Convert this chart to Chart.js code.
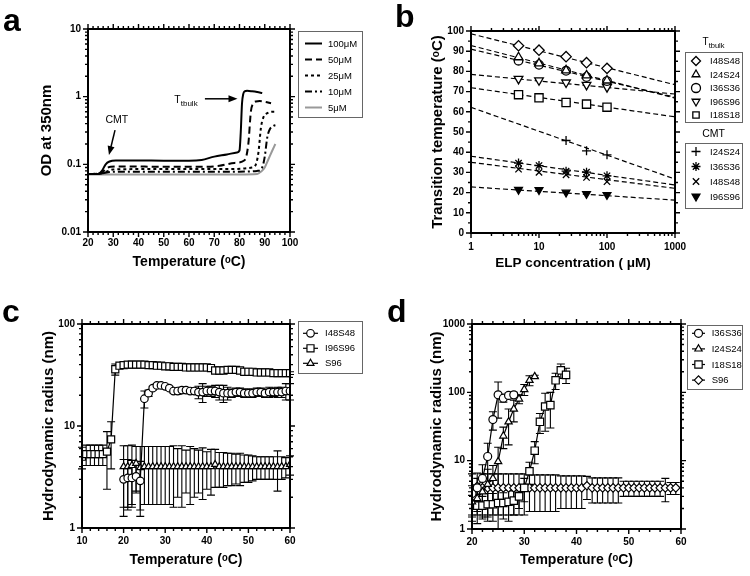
<!DOCTYPE html>
<html>
<head>
<meta charset="utf-8">
<script src="https://cdn.jsdelivr.net/npm/chart.js@4/dist/chart.umd.min.js"></script>
<style>
  body { margin: 0; background: #fff; width: 750px; height: 576px; position: relative; overflow: hidden; }
  canvas { position: absolute; }
  .lab { position: absolute; font: bold 32px Arial, 'Liberation Sans', sans-serif; line-height: 1; color: #000; }
</style>
</head>
<body>
<canvas id="chA" width="375" height="288" style="left:0;top:0"></canvas>
<canvas id="chB" width="375" height="288" style="left:375px;top:0"></canvas>
<canvas id="chC" width="375" height="288" style="left:0;top:288px"></canvas>
<canvas id="chD" width="375" height="288" style="left:375px;top:288px"></canvas>
<div class="lab" style="left:3px;top:4px">a</div>
<div class="lab" style="left:395px;top:0">b</div>
<div class="lab" style="left:2px;top:295px">c</div>
<div class="lab" style="left:387px;top:295px">d</div>
<script>
const FONT = "Arial, 'Liberation Sans', Helvetica, sans-serif";

// ---------- panel a: OD at 350nm vs temperature ----------
const concLabels = ['100μM', '50μM', '25μM', '10μM', '5μM'];
const tA100 = [20, 24, 25.5, 27, 28.5, 31, 40, 50, 60, 65, 70, 75, 79, 80, 80.5, 81, 81.5, 82, 83, 85, 87, 89];
const odA100 = [0.072, 0.072, 0.08, 0.1, 0.11, 0.114, 0.114, 0.113, 0.113, 0.116, 0.13, 0.14, 0.15, 0.16, 0.3, 0.8, 1.1, 1.2, 1.22, 1.2, 1.17, 1.13];
const tA50 = [20, 25, 27, 29, 35, 50, 65, 72, 78, 82, 83.5, 84.5, 85.5, 86.5, 88, 90, 92.5];
const odA50 = [0.072, 0.073, 0.085, 0.092, 0.093, 0.092, 0.092, 0.095, 0.105, 0.115, 0.2, 0.6, 0.8, 0.85, 0.86, 0.84, 0.8];
const tA25 = [20, 25, 28, 30, 40, 60, 75, 85, 86.5, 87.5, 88.5, 89.5, 91, 93, 94.5];
const odA25 = [0.072, 0.073, 0.08, 0.084, 0.085, 0.085, 0.085, 0.09, 0.1, 0.15, 0.35, 0.5, 0.57, 0.6, 0.6];
const tA10 = [20, 25, 29, 35, 60, 80, 87, 89, 90, 91, 92, 93.5, 94.5];
const odA10 = [0.072, 0.073, 0.077, 0.078, 0.078, 0.078, 0.08, 0.09, 0.13, 0.25, 0.33, 0.37, 0.38];
const tA5 = [20, 40, 60, 80, 87, 88.5, 90, 91.5, 93, 94.2];
const odA5 = [0.071, 0.071, 0.071, 0.071, 0.072, 0.078, 0.09, 0.12, 0.16, 0.2];

// ---------- panel b: transition temperature vs concentration ----------
const concB = [5, 10, 25, 50, 100];
const concCmtI24 = [25, 50, 100];
const fitConc = [1, 1000];
const bulkNames = ['I48S48', 'I24S24', 'I36S36', 'I96S96', 'I18S18'];
const bulkI48S48 = [92.7, 90.5, 87.3, 84.3, 81.5];
const bulkI24S24 = [87.0, 84.0, 80.5, 78.0, 75.5];
const bulkI36S36 = [85.3, 83.3, 80.3, 77.2, 75.2];
const bulkI96S96 = [76.3, 75.6, 74.5, 73.3, 72.2];
const bulkI18S18 = [68.5, 66.9, 64.6, 63.8, 62.3];
const cmtNames = ['I24S24', 'I36S36', 'I48S48', 'I96S96'];
const cmtI24S24 = [45.8, 40.7, 38.7];
const cmtI36S36 = [34.6, 33.4, 30.6, 30.1, 28.3];
const cmtI48S48 = [31.6, 30.0, 28.8, 27.5, 25.4];
const cmtI96S96 = [21.4, 21.3, 20.1, 19.4, 18.9];
// dashed fit lines, value at 1 µM and at 1000 µM
const fitBulk = [[98.6, 73.4], [92.8, 66.8], [91.0, 67.2], [78.5, 68.8], [71.9, 57.5]];
const fitCmt = [[62.2, 26.7], [38.0, 23.8], [35.0, 22.1], [22.8, 16.3]];

// ---------- panel c: hydrodynamic radius ----------
const tC20 = [20, 21, 22, 23, 24, 25, 26, 27, 28, 29, 30, 31, 32, 33, 34, 35, 36, 37, 38, 39, 40,
  41, 42, 43, 44, 45, 46, 47, 48, 49, 50, 51, 52, 53, 54, 55, 56, 57, 58, 59, 60];
const tC10 = [10, 11, 12, 13, 14, 15, 16, 17, 18, 19, 20, 21, 22, 23, 24, 25, 26, 27, 28, 29, 30,
  31, 32, 33, 34, 35, 36, 37, 38, 39, 40, 41, 42, 43, 44, 45, 46, 47, 48, 49, 50,
  51, 52, 53, 54, 55, 56, 57, 58, 59, 60];
const rC_I48S48 = [3.0, 3.1, 3.1, 3.2, 2.9, 18.5, 21, 23.5, 25, 25, 24.5, 23.5, 22, 22, 22.5, 22.5, 22, 22, 21.5, 21.5,
  22, 22, 22, 21.5, 21, 21, 21, 21.5, 21.5, 21, 21, 21, 21.5, 21.5, 21, 21.5, 21.5, 21.5, 21.5, 22, 22];
const eC_I48S48 = [1.7, 1.6, 1.5, 1.0, 1.6, 3.5, 1.5, 1, 1, 1, 1, 1, 1, 1.5, 1.5, 1, 1, 1.5, 3, 4.5,
  2.5, 2.5, 3, 3.5, 4, 3, 2, 2, 2, 2, 2, 2, 2, 2, 2, 2.5, 2, 2.5, 2.5, 4, 4];
const rC_I96S96 = [5.0, 5.3, 5.3, 5.3, 5.3, 5.3, 5.6, 7.4,
  36, 39, 39.5, 40, 40, 40, 40, 40, 39.5, 39.5, 39, 39, 38.5, 38.5, 38, 38, 38, 37.5, 37.5, 37.5, 37.5, 37.5,
  37.5, 37, 35, 35, 35, 35.5, 35.5, 35.5, 35, 34, 34, 34, 33.5, 33.5, 33.5, 33.5, 33, 33, 33, 33, 33];
const eC_I96S96 = [1.2, 1.2, 1.2, 1.2, 1.2, 1.2, 3.2, 3.6,
  4.5, 1, 1, 1, 1, 1, 1, 1, 1, 1, 1, 1, 1, 1, 1, 1, 1, 1, 1, 1, 1, 1,
  1, 1, 1, 1, 1, 1, 1, 1, 1, 1, 1, 1, 1, 1, 1, 1, 1, 1, 1, 1, 1];
const rC_S96 = [4.0, 4.0, 4.1, 4.3, 3.9, 4.0, 4.0, 4.0, 4.0, 4.0,
  4.0, 4.0, 4.0, 4.0, 4.0, 4.0, 4.0, 4.0, 4.0, 4.0,
  4.0, 4.0, 4.2, 4.0, 4.0, 4.0, 4.0, 4.0, 4.0, 4.0,
  4.0, 4.0, 4.0, 4.0, 4.0, 4.0, 4.0, 4.0, 4.0, 4.0, 4.2];
const eC_S96 = [2.4, 2.4, 2.4, 2.0, 2.4, 2.3, 2.3, 2.3, 2.3, 2.3,
  2.3, 2.3, 2.4, 2.0, 2.4, 1.8, 2.3, 2.0, 1.8, 2.1,
  1.6, 1.9, 1.7, 1.5, 1.5, 1.4, 1.4, 1.3, 1.4, 1.2,
  1.2, 1.1, 1.0, 1.0, 1.0, 1.0, 1.0, 1.7, 1.0, 0.9, 0.9];

// ---------- panel d: hydrodynamic radius ----------
const tD_I36 = [20, 21, 22, 23, 24, 25, 26, 27, 28];
const rD_I36S36 = [3.3, 4.0, 5.5, 11.5, 40, 92, 82, 90, 92];
const eD_I36S36 = [1.0, 1.5, 3.2, 6.5, 12, 50, 10, 8, 8];
const tD_I24 = [20, 21, 22, 23, 24, 25, 26, 27, 28, 29, 30, 31, 32];
const rD_I24S24 = [2.5, 2.8, 3.5, 4.5, 5.5, 9.7, 23, 37, 57, 80, 110, 150, 170];
const eD_I24S24 = [1.0, 1.2, 2.0, 3.0, 3.0, 6, 8, 20, 20, 12, 20, 25, 8];
const tD_I18 = [20, 21, 22, 23, 24, 25, 26, 27, 28, 29, 30, 31, 32, 33, 34, 35, 36, 37, 38];
const rD_I18S18 = [2.2, 2.2, 2.2, 2.3, 2.3, 2.4, 2.4, 2.5, 2.6, 3.0, 4.0, 7.0, 14, 37, 62, 65, 150, 210, 180];
const eD_I18S18 = [0.9, 1.0, 0.8, 1.0, 1.0, 1.4, 1.0, 1.2, 1.0, 1.0, 1.5, 2.5, 5, 12, 35, 35, 40, 50, 45];
const tD_S96 = [20, 21, 22, 23, 24, 25, 26, 27, 28, 29, 30, 31, 32, 33, 34, 35, 36, 37, 38, 39,
  40, 41, 42, 43, 44, 45, 46, 47, 48, 49, 50, 51, 52, 53, 54, 55, 56, 57, 58, 59];
const rD_S96 = [4.0, 4.2, 4.0, 4.0, 4.0, 4.0, 4.0, 4.0, 4.0, 4.0, 4.0, 4.0, 4.0, 4.0, 4.0, 4.0, 4.0, 4.0, 4.0, 4.0,
  4.0, 4.0, 4.3, 4.0, 4.0, 4.0, 4.0, 4.0, 4.0, 4.0, 4.0, 4.0, 4.0, 4.0, 4.0, 4.0, 4.0, 4.0, 4.0, 4.0];
const eD_S96 = [2.4, 2.4, 2.4, 2.4, 2.4, 2.4, 2.4, 2.4, 2.4, 2.4, 2.4, 2.2, 2.2, 2.2, 2.2, 2.2, 2.2, 2.0, 2.0, 2.0,
  2.0, 2.0, 1.6, 1.6, 1.6, 1.6, 1.6, 1.6, 1.6, 1.0, 1.0, 1.0, 1.0, 1.0, 1.0, 1.0, 1.0, 1.5, 0.8, 0.8];

const pts = (xs, ys) => xs.map((x, i) => ({ x, y: ys[i] }));

// rich text (sub/superscript) drawn with the baseline at y
function drawRich(ctx, parts, x, y, align) {
  let w = 0;
  parts.forEach(p => {
    ctx.font = `${p.bold ? 'bold ' : ''}${p.size}px ${FONT}`;
    p.w = ctx.measureText(p.text).width;
    w += p.w;
  });
  let cx = align === 'center' ? x - w / 2 : x;
  ctx.textAlign = 'left';
  ctx.textBaseline = 'alphabetic';
  ctx.fillStyle = '#000';
  parts.forEach(p => {
    ctx.font = `${p.bold ? 'bold ' : ''}${p.size}px ${FONT}`;
    ctx.fillText(p.text, cx, y + (p.dy || 0));
    cx += p.w;
  });
}

function tickList(scale, minor, major) {
  const out = [];
  if (scale.type === 'logarithmic') {
    const e0 = Math.floor(Math.log10(scale.min)), e1 = Math.ceil(Math.log10(scale.max));
    for (let e = e0; e <= e1; e++) {
      for (let s = 1; s < 10; s++) {
        const v = s * Math.pow(10, e);
        if (v >= scale.min * 0.999 && v <= scale.max * 1.001) out.push({ v, major: s === 1 });
      }
    }
  } else {
    for (let v = scale.min; v <= scale.max + 1e-9; v += minor) {
      out.push({ v, major: Math.abs(v / major - Math.round(v / major)) < 1e-6 });
    }
  }
  return out;
}

// box round the plot plus outward tick marks on all four sides
const frame = {
  id: 'frame',
  afterDraw(chart, args, o) {
    const { ctx, chartArea: a, scales: { x, y } } = chart;
    ctx.save();
    ctx.strokeStyle = '#000';
    ctx.lineWidth = 2;
    ctx.strokeRect(a.left, a.top, a.right - a.left, a.bottom - a.top);
    ctx.lineWidth = 1.4;
    ctx.beginPath();
    for (const t of tickList(x, o.xMinor, o.xMajor)) {
      const p = x.getPixelForValue(t.v), len = t.major ? 5 : 3;
      ctx.moveTo(p, a.bottom); ctx.lineTo(p, a.bottom + len);
      ctx.moveTo(p, a.top); ctx.lineTo(p, a.top - len);
    }
    for (const t of tickList(y, o.yMinor, o.yMajor)) {
      const p = y.getPixelForValue(t.v), len = t.major ? 5 : 3;
      ctx.moveTo(a.left, p); ctx.lineTo(a.left - len, p);
      ctx.moveTo(a.right, p); ctx.lineTo(a.right + len, p);
    }
    ctx.stroke();
    ctx.restore();
  }
};

const errorBars = {
  id: 'errorBars',
  beforeDatasetsDraw(chart) {
    const { ctx, scales: { x, y } } = chart;
    ctx.save();
    ctx.strokeStyle = '#000';
    ctx.lineWidth = 1.1;
    chart.data.datasets.forEach(ds => {
      if (!ds.errors) return;
      ds.data.forEach((p, j) => {
        const e = ds.errors[j];
        if (!e) return;
        const px = x.getPixelForValue(p.x);
        const lo = Math.max(p.y - e, y.min), hi = Math.min(p.y + e, y.max);
        const y1 = y.getPixelForValue(lo), y2 = y.getPixelForValue(hi);
        ctx.beginPath();
        ctx.moveTo(px, y1); ctx.lineTo(px, y2);
        ctx.moveTo(px - 4, y1); ctx.lineTo(px + 4, y1);
        ctx.moveTo(px - 4, y2); ctx.lineTo(px + 4, y2);
        ctx.stroke();
      });
    });
    ctx.restore();
  }
};

function marker(ctx, ds, x, y) {
  ctx.fillStyle = ds.pointBackgroundColor || '#fff';
  ctx.strokeStyle = '#000';
  ctx.lineWidth = ds.pointBorderWidth || 1.2;
  Chart.helpers.drawPoint(ctx, {
    pointStyle: ds.pointStyle, rotation: ds.pointRotation || 0,
    radius: ds.pointRadius, borderWidth: ds.pointBorderWidth || 1.2
  }, x, y);
}

const legendBox = {
  id: 'legendBox',
  afterDraw(chart, args, o) {
    if (!o.boxes) return;
    const ctx = chart.ctx;
    ctx.save();
    for (const b of o.boxes) {
      ctx.strokeStyle = '#666';
      ctx.lineWidth = 1;
      ctx.strokeRect(b.left + 0.5, b.top + 0.5, b.width, b.height);
      if (b.header) drawRich(ctx, b.header, b.left + b.width / 2, b.headerY, 'center');
      chart.data.datasets.filter(d => d.group === b.group).forEach((d, i) => {
        const yy = b.top + b.first + i * b.step;
        if (b.kind === 'line' || b.kind === 'both') {
          ctx.save();
          ctx.strokeStyle = d.borderColor;
          ctx.lineWidth = d.borderWidth;
          ctx.setLineDash(d.borderDash || []);
          ctx.beginPath();
          ctx.moveTo(b.left + b.lineFrom, yy); ctx.lineTo(b.left + b.lineTo, yy);
          ctx.stroke();
          ctx.restore();
        }
        if (b.kind === 'marker' || b.kind === 'both') {
          marker(ctx, Object.assign({}, d, { pointRadius: b.markerR || d.pointRadius }), b.left + b.markerX, yy);
        }
        ctx.fillStyle = '#000';
        ctx.font = `9.5px ${FONT}`;
        ctx.textAlign = 'left';
        ctx.textBaseline = 'middle';
        ctx.fillText(d.label, b.left + b.textX, yy + 0.5);
      });
    }
    ctx.restore();
  }
};

const notes = {
  id: 'notes',
  afterDatasetsDraw(chart, args, o) {
    if (!o.arrows) return;
    const { ctx, scales: { x, y } } = chart;
    const px = p => [x.getPixelForValue(p[0]), y.getPixelForValue(p[1])];
    ctx.save();
    ctx.strokeStyle = '#000';
    ctx.fillStyle = '#000';
    ctx.lineWidth = 1.5;
    for (const a of o.arrows) {
      const [x1, y1] = px(a.from), [x2, y2] = px(a.to);
      const ang = Math.atan2(y2 - y1, x2 - x1), c = Math.cos(ang), s = Math.sin(ang);
      ctx.beginPath();
      ctx.moveTo(x1, y1); ctx.lineTo(x2 - 6 * c, y2 - 6 * s);
      ctx.stroke();
      ctx.beginPath();
      ctx.moveTo(x2, y2);
      ctx.lineTo(x2 - 9 * c + 3.5 * s, y2 - 9 * s - 3.5 * c);
      ctx.lineTo(x2 - 9 * c - 3.5 * s, y2 - 9 * s + 3.5 * c);
      ctx.closePath();
      ctx.fill();
    }
    for (const t of o.labels) {
      const [tx, ty] = px(t.at);
      drawRich(ctx, t.parts, tx, ty, 'center');
    }
    ctx.restore();
  }
};

const logLabel = v => {
  const l = Math.log10(v);
  return Math.abs(l - Math.round(l)) < 1e-6 ? String(+Number(v).toPrecision(2)) : '';
};

function axis(o) {
  return {
    type: o.type || 'linear', min: o.min, max: o.max, position: o.pos,
    grid: { display: false, drawTicks: false },
    border: { display: false },
    ticks: {
      autoSkip: false, maxRotation: 0, padding: o.pad, stepSize: o.step, color: '#000',
      font: { family: FONT, size: 10, weight: 'bold' },
      callback: o.type === 'logarithmic' ? logLabel : v => v
    },
    title: {
      display: true, text: o.title, color: '#000', padding: o.tpad,
      font: { family: FONT, size: o.tsize, weight: 'bold', lineHeight: 1.2 }
    },
    afterFit: s => { if (s.isHorizontal()) s.height = o.size; else s.width = o.size; }
  };
}

function baseOptions(pad, scales, pluginOpts) {
  return {
    responsive: false, animation: false, events: [],
    layout: { padding: pad },
    scales,
    plugins: Object.assign({ legend: { display: false }, tooltip: { enabled: false } }, pluginOpts)
  };
}

const tempTitle = 'Temperature (ᵒC)';

// ---------- chart a ----------
const dashA = [[], [7, 4], [3, 3], [7, 3, 2, 3], []];
const colA = ['#000', '#000', '#000', '#000', '#999'];
const seriesA = [[tA100, odA100], [tA50, odA50], [tA25, odA25], [tA10, odA10], [tA5, odA5]];
new Chart(document.getElementById('chA'), {
  type: 'scatter',
  data: {
    datasets: seriesA.map((s, i) => ({
      label: concLabels[i], group: 'a', data: pts(s[0], s[1]), showLine: true,
      borderColor: colA[i], borderWidth: 2, borderDash: dashA[i],
      pointRadius: 0, cubicInterpolationMode: 'monotone'
    }))
  },
  options: baseOptions({ left: 0, top: 29, right: 85, bottom: 0 }, {
    x: axis({ min: 20, max: 100, step: 10, pos: 'bottom', pad: 5, size: 56, title: tempTitle, tsize: 14, tpad: { bottom: 17 } }),
    y: axis({ type: 'logarithmic', min: 0.01, max: 10, pos: 'left', pad: 7, size: 88, title: 'OD at 350nm', tsize: 15, tpad: { top: 38 } })
  }, {
    frame: { xMinor: 2, xMajor: 10 },
    legendBox: { boxes: [{ group: 'a', kind: 'line', left: 298, top: 31, width: 64, height: 86, first: 12.5, step: 16, lineFrom: 7, lineTo: 24, textX: 30 }] },
    notes: {
      arrows: [{ from: [30.7, 0.32], to: [28.3, 0.137] }, { from: [66.3, 0.93], to: [79.2, 0.93] }],
      labels: [
        { at: [31.4, 0.41], parts: [{ text: 'CMT', size: 10.5 }] },
        { at: [58.8, 0.8], parts: [{ text: 'T', size: 10.5 }, { text: 'tbulk', size: 8, dy: 3 }] }
      ]
    }
  }),
  plugins: [frame, legendBox, notes]
});

// ---------- chart b ----------
const bulkSeries = [bulkI48S48, bulkI24S24, bulkI36S36, bulkI96S96, bulkI18S18];
const bulkStyle = [
  { pointStyle: 'rectRot', pointRadius: 5.2 },
  { pointStyle: 'triangle', pointRadius: 5 },
  { pointStyle: 'circle', pointRadius: 4.3 },
  { pointStyle: 'triangle', pointRadius: 5, pointRotation: 180 },
  { pointStyle: 'rect', pointRadius: 5.8 }
];
const cmtSeries = [[concCmtI24, cmtI24S24], [concB, cmtI36S36], [concB, cmtI48S48], [concB, cmtI96S96]];
const cmtStyle = [
  { pointStyle: 'cross', pointRadius: 4.5 },
  { pointStyle: 'star', pointRadius: 4.5 },
  { pointStyle: 'crossRot', pointRadius: 4.5 },
  { pointStyle: 'triangle', pointRadius: 4.5, pointRotation: 180, pointBackgroundColor: '#000' }
];
const fitLine = ends => ({
  data: pts(fitConc, ends), showLine: true, borderColor: '#000', borderWidth: 1.2,
  borderDash: [5, 3], pointRadius: 0
});
const markerSet = (label, group, data, st) => Object.assign({
  label, group, data, showLine: false, borderColor: '#000', pointBorderColor: '#000',
  pointBackgroundColor: '#fff', pointBorderWidth: 1.3
}, st);
new Chart(document.getElementById('chB'), {
  type: 'scatter',
  data: {
    datasets: [
      ...bulkSeries.map((v, i) => markerSet(bulkNames[i], 'bulk', pts(concB, v), bulkStyle[i])),
      ...cmtSeries.map((s, i) => markerSet(cmtNames[i], 'cmt', pts(s[0], s[1]), cmtStyle[i])),
      ...fitBulk.map(fitLine),
      ...fitCmt.map(fitLine)
    ]
  },
  options: baseOptions({ left: 0, top: 31, right: 75, bottom: 0 }, {
    x: axis({ type: 'logarithmic', min: 1, max: 1000, pos: 'bottom', pad: 8, size: 55, title: 'ELP concentration ( μM)', tsize: 13.5, tpad: { bottom: 17 } }),
    y: axis({ min: 0, max: 100, step: 10, pos: 'left', pad: 7, size: 96, title: 'Transition temperature (ᵒC)', tsize: 15, tpad: { top: 54 } })
  }, {
    frame: { yMinor: 5, yMajor: 10 },
    legendBox: {
      boxes: [
        { group: 'bulk', kind: 'marker', left: 310, top: 52, width: 57, height: 70, first: 9, step: 13.5, markerX: 11, markerR: 4.5, textX: 25,
          headerY: 45, header: [{ text: 'T', size: 10 }, { text: 'tbulk', size: 7.5, dy: 3 }] },
        { group: 'cmt', kind: 'marker', left: 310, top: 143, width: 57, height: 65, first: 8.5, step: 15, markerX: 11, markerR: 4.5, textX: 25,
          headerY: 137, header: [{ text: 'CMT', size: 10.5 }] }
      ]
    }
  }),
  plugins: [frame, legendBox]
});

// ---------- chart c ----------
const lineSet = (label, group, xs, ys, errs, st) => Object.assign({
  label, group, data: pts(xs, ys), errors: errs, showLine: true,
  borderColor: '#000', borderWidth: 1.2, pointBorderColor: '#000', pointBackgroundColor: '#fff',
  pointBorderWidth: 1.2, pointRadius: 4
}, st);
new Chart(document.getElementById('chC'), {
  type: 'scatter',
  data: {
    datasets: [
      lineSet('I48S48', 'c', tC20, rC_I48S48, eC_I48S48, { pointStyle: 'circle', pointRadius: 3.8 }),
      lineSet('I96S96', 'c', tC10, rC_I96S96, eC_I96S96, { pointStyle: 'rect', pointRadius: 5 }),
      lineSet('S96', 'c', tC20, rC_S96, eC_S96, { pointStyle: 'triangle', pointRadius: 4 })
    ]
  },
  options: baseOptions({ left: 0, top: 36, right: 85, bottom: 0 }, {
    x: axis({ min: 10, max: 60, step: 10, pos: 'bottom', pad: 7, size: 48, title: tempTitle, tsize: 14, tpad: { bottom: 7.6 } }),
    y: axis({ type: 'logarithmic', min: 1, max: 100, pos: 'left', pad: 7, size: 82, title: 'Hydrodynamic radius (nm)', tsize: 15, tpad: { top: 40 } })
  }, {
    frame: { xMinor: 2, xMajor: 10 },
    legendBox: { boxes: [{ group: 'c', kind: 'both', left: 298, top: 33, width: 64, height: 52, first: 12.3, step: 15, lineFrom: 5, lineTo: 20, markerX: 12.5, textX: 27 }] }
  }),
  plugins: [errorBars, frame, legendBox]
});

// ---------- chart d ----------
new Chart(document.getElementById('chD'), {
  type: 'scatter',
  data: {
    datasets: [
      lineSet('I36S36', 'd', tD_I36, rD_I36S36, eD_I36S36, { pointStyle: 'circle', pointRadius: 4 }),
      lineSet('I24S24', 'd', tD_I24, rD_I24S24, eD_I24S24, { pointStyle: 'triangle', pointRadius: 4.2 }),
      lineSet('I18S18', 'd', tD_I18, rD_I18S18, eD_I18S18, { pointStyle: 'rect', pointRadius: 5.2 }),
      lineSet('S96', 'd', tD_S96, rD_S96, eD_S96, { pointStyle: 'rectRot', pointRadius: 4.2 })
    ]
  },
  options: baseOptions({ left: 0, top: 36, right: 69, bottom: 0 }, {
    x: axis({ min: 20, max: 60, step: 10, pos: 'bottom', pad: 7, size: 47, title: tempTitle, tsize: 14, tpad: { bottom: 7.6 } }),
    y: axis({ type: 'logarithmic', min: 1, max: 1000, pos: 'left', pad: 7, size: 97, title: 'Hydrodynamic radius (nm)', tsize: 15, tpad: { top: 52.7 } })
  }, {
    frame: { xMinor: 2, xMajor: 10 },
    legendBox: { boxes: [{ group: 'd', kind: 'both', left: 312, top: 37, width: 55, height: 64, first: 8.3, step: 15.6, lineFrom: 5, lineTo: 18, markerX: 11.5, textX: 24.7 }] }
  }),
  plugins: [errorBars, frame, legendBox]
});
</script>
</body>
</html>
